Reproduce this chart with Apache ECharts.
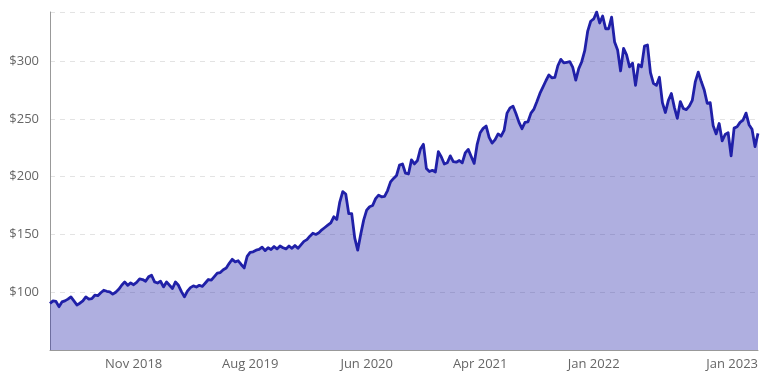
<!DOCTYPE html>
<html>
<head>
<meta charset="utf-8">
<script src="https://cdn.jsdelivr.net/npm/echarts@6/dist/echarts.min.js"></script>
<style>
html,body{margin:0;padding:0;background:#fff;}
#chart{width:761px;height:375px;}
</style>
</head>
<body>
<div id="chart"></div>
<script>
// Price values, sampled evenly along the period
const prices = [
90.2, 92.5, 92, 87.5, 91.6, 92.5, 94, 95.9, 92.5, 89,
90.5, 92.5, 95.9, 94, 94.5, 97.4, 97, 99.5, 101.7, 100.8,
100.3, 98.3, 100, 102.5, 106, 108.9, 106, 108, 106.5, 108.5,
111.5, 111, 109.5, 113.3, 114.7, 108.9, 108, 109.5, 104.6, 108.9,
106, 103.2, 108.9, 106, 100.5, 96, 101, 104, 105.5, 104.5,
106, 105, 108, 111, 110.5, 113.5, 116.5, 117, 119.5, 121,
125, 128.5, 126.3, 127.2, 124, 121, 131, 134.5, 135, 136.4,
137, 139, 136, 138.5, 137, 139.5, 137.5, 140, 138.5, 137.5,
140, 138, 140.5, 138, 141, 144, 145.5, 148.5, 151, 150,
151.5, 154, 156, 158, 160, 165.3, 163, 178, 187, 185,
168, 168, 147, 136.4, 150, 162.4, 171, 174, 175, 181,
184, 182.6, 183, 188, 195.5, 198.5, 201, 210, 211, 203,
202.3, 214.5, 211, 214, 224, 228, 207, 204.5, 205.5, 204,
221.6, 217, 211, 212, 218, 213, 212.5, 214, 212, 220.5,
223.6, 217.5, 211.5, 228, 238, 241.8, 243.8, 234, 229, 232,
237, 235, 240, 255, 259.5, 261, 254.5, 247, 241.5, 247,
247.5, 255, 258.5, 265, 272, 277.5, 283, 288, 285.5, 286,
296, 301.5, 298.5, 299, 299.5, 294.5, 283.5, 293.5, 299.5, 309,
326, 334.5, 336.5, 342.5, 333, 339, 328, 328, 338, 316.5,
309.7, 291.5, 311, 305.5, 295, 298.2, 279, 297, 295, 313,
314, 290, 280.8, 279, 286, 264, 255.5, 266, 272, 260,
250.5, 265, 259, 258, 261, 266, 282, 290.5, 282.3, 275,
263.5, 264, 244, 237, 246, 231, 236.5, 238, 218, 242,
243.2, 247, 249, 255, 245, 241, 226, 237.5
];

// Dates of the labelled points (first point and each axis label)
const firstDate = '2018-04-06';
const tickIndex = [28, 67, 106, 144, 182, 237];
const tickDates = ['2018-11-14', '2019-08-14', '2020-06-12', '2021-04-14', '2022-01-12', '2023-01-27'];
const monthNames = ['Jan','Feb','Mar','Apr','May','Jun','Jul','Aug','Sep','Oct','Nov','Dec'];
const yTicks = [100, 150, 200, 250, 300];

// Build the category dates between the known dates
const anchorIdx = [0].concat(tickIndex);
const anchorTime = [firstDate].concat(tickDates).map(d => Date.parse(d + 'T00:00:00Z'));
const dates = prices.map((_, i) => {
  let k = 0;
  while (k < anchorIdx.length - 2 && i > anchorIdx[k + 1]) k++;
  const t = anchorTime[k] + (anchorTime[k + 1] - anchorTime[k]) * (i - anchorIdx[k]) / (anchorIdx[k + 1] - anchorIdx[k]);
  return new Date(Math.round(t / 86400000) * 86400000).toISOString().slice(0, 10);
});

const chart = echarts.init(document.getElementById('chart'), null, {renderer: 'canvas'});
const labelFont = {fontFamily: 'Open Sans', fontSize: 13, color: '#666'};

chart.setOption({
  animation: false,
  grid: {left: 50, right: 0, top: 12, bottom: 25, containLabel: false},
  xAxis: {
    type: 'category',
    data: dates,
    boundaryGap: false,
    axisLine: {lineStyle: {color: '#999', width: 1}},
    axisTick: {show: false},
    splitLine: {show: false},
    axisLabel: Object.assign({}, labelFont, {
      margin: 8,
      interval: (index) => tickIndex.includes(index),
      showMaxLabel: true,
      alignMaxLabel: 'right',
      formatter: (val) => {
        const d = new Date(val + 'T00:00:00Z');
        return monthNames[d.getUTCMonth()] + ' ' + d.getUTCFullYear();
      }
    })
  },
  yAxis: {
    type: 'value',
    min: 50,
    max: 'dataMax',
    interval: 50,
    axisLine: {show: true, lineStyle: {color: '#999', width: 1}},
    axisTick: {show: false},
    splitLine: {show: true, lineStyle: {color: '#e3e3e3', type: [5, 5], width: 1}},
    axisLabel: Object.assign({}, labelFont, {
      margin: 11,
      showMinLabel: false,
      showMaxLabel: false,
      formatter: (v) => yTicks.includes(v) ? '$' + v : ''
    })
  },
  series: [{
    type: 'line',
    data: prices,
    showSymbol: false,
    smooth: false,
    lineStyle: {color: '#2020a8', width: 2.8, join: 'round'},
    itemStyle: {color: '#2020a8'},
    areaStyle: {color: '#2222aa', opacity: 0.36}
  }]
});
</script>
</body>
</html>
